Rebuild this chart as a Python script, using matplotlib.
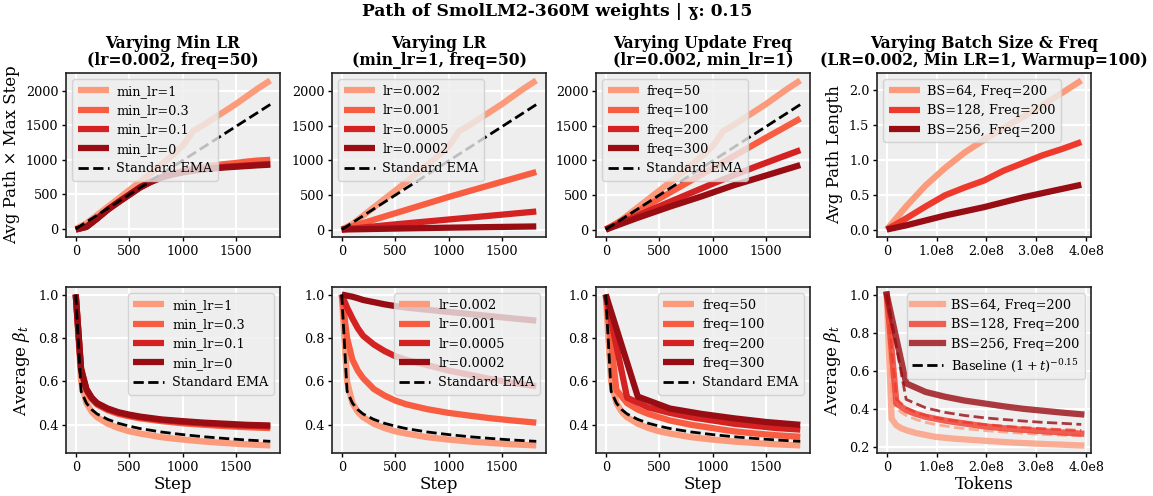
import matplotlib
matplotlib.use('Agg')
import matplotlib.pyplot as plt
import numpy as np
from matplotlib.lines import Line2D
from matplotlib.ticker import FuncFormatter, MultipleLocator

# ---- top row: average path x max step ----
steps_top = [0, 100, 200, 300, 400, 500, 600, 700, 800, 900, 1000, 1100, 1200,
             1300, 1400, 1500, 1600, 1700, 1820]
path_base = [0, 80, 200, 320, 440, 560, 680, 800, 930, 1060, 1200, 1420, 1510,
             1610, 1710, 1810, 1920, 2030, 2150]
path_minlr03 = [-10, 30, 150, 280, 390, 494, 600, 680, 750, 800, 840, 870, 900,
                920, 940, 955, 975, 990, 1000]
path_minlr01 = [-10, 30, 150, 280, 390, 494, 600, 680, 745, 790, 825, 850, 870,
                885, 900, 910, 920, 930, 940]
path_minlr0 = [-10, 28, 148, 278, 388, 492, 598, 678, 742, 785, 818, 843, 862,
               877, 890, 900, 910, 920, 930]
path_ema = [0, 99, 198, 297, 396, 495, 594, 693, 792, 891, 990, 1089, 1188,
            1287, 1386, 1485, 1584, 1683, 1802]

steps_lr = [0, 500, 1000, 1500, 1820]
path_lr001 = [0, 235, 470, 690, 830]
path_lr0005 = [0, 75, 145, 215, 260]
path_lr0002 = [0, 14, 27, 38, 45]

steps_f100_top = [0, 500, 1000, 1500, 1820]
path_f100 = [0, 445, 885, 1325, 1600]
steps_f200_top = [0, 200, 400, 600, 800, 1000, 1200, 1400, 1600, 1820]
path_f200 = [0, 135, 270, 400, 530, 660, 785, 905, 1020, 1145]
steps_f300_top = [0, 300, 600, 900, 1200, 1500, 1820]
path_f300 = [0, 170, 330, 480, 640, 780, 930]

tokens_top = [0, 0.39e8, 0.78e8, 1.17e8, 1.56e8, 1.95e8, 2.34e8, 2.73e8,
              3.12e8, 3.51e8, 3.9e8]
path_bs64 = [0, 0.33, 0.63, 0.88, 1.10, 1.28, 1.45, 1.61, 1.77, 1.95, 2.13]
path_bs128 = [0, 0.16, 0.33, 0.49, 0.60, 0.70, 0.84, 0.95, 1.06, 1.15, 1.25]
path_bs256 = [0, 0.06, 0.13, 0.20, 0.26, 0.32, 0.39, 0.46, 0.52, 0.58, 0.64]

# ---- bottom row: average beta_t ----
steps_bot = [0, 50, 100, 150, 200, 300, 400, 500, 600, 800, 1000, 1200, 1400,
             1600, 1820]
beta_ema = [1.0, 0.555, 0.50, 0.47, 0.45, 0.425, 0.407, 0.394, 0.383, 0.367,
            0.355, 0.345, 0.337, 0.33, 0.324]
beta_base = [1.0, 0.60, 0.50, 0.46, 0.435, 0.405, 0.385, 0.37, 0.36, 0.343,
             0.332, 0.323, 0.316, 0.31, 0.305]
beta_minlr03 = [1.0, 0.65, 0.558, 0.518, 0.493, 0.467, 0.45, 0.439, 0.43,
                0.417, 0.407, 0.4, 0.394, 0.389, 0.385]
beta_minlr01 = [1.0, 0.655, 0.562, 0.522, 0.497, 0.472, 0.455, 0.444, 0.435,
                0.422, 0.413, 0.406, 0.4, 0.396, 0.393]
beta_minlr0 = [1.0, 0.66, 0.565, 0.525, 0.50, 0.475, 0.458, 0.447, 0.438,
               0.425, 0.417, 0.41, 0.405, 0.40, 0.397]
beta_lr001 = [1.0, 0.80, 0.70, 0.65, 0.615, 0.565, 0.535, 0.512, 0.495, 0.472,
              0.455, 0.442, 0.43, 0.42, 0.41]
beta_lr0005 = [1.0, 0.94, 0.89, 0.845, 0.81, 0.77, 0.74, 0.716, 0.70, 0.675,
               0.65, 0.63, 0.61, 0.593, 0.578]
beta_lr0002 = [1.0, 0.995, 0.99, 0.983, 0.975, 0.965, 0.955, 0.947, 0.94, 0.93,
               0.92, 0.91, 0.90, 0.89, 0.88]

steps_f100 = [0, 100, 200, 300, 400, 500, 600, 800, 1000, 1200, 1400, 1600, 1820]
beta_f100 = [1.0, 0.56, 0.50, 0.47, 0.45, 0.435, 0.42, 0.40, 0.385, 0.37, 0.36,
             0.352, 0.345]
steps_f200 = [0, 200, 400, 600, 800, 1000, 1200, 1400, 1600, 1820]
beta_f200 = [1.0, 0.525, 0.48, 0.455, 0.435, 0.42, 0.405, 0.395, 0.385, 0.378]
steps_f300 = [0, 300, 600, 900, 1200, 1500, 1820]
beta_f300 = [1.0, 0.53, 0.475, 0.45, 0.43, 0.413, 0.40]

tokens_bs64 = [0, 0.0975e8, 0.195e8, 0.2925e8, 0.39e8, 0.585e8, 0.78e8,
               0.975e8, 1.365e8, 1.95e8, 2.535e8, 3.12e8, 3.9e8]
beta_bs64 = [1.0, 0.35, 0.315, 0.30, 0.29, 0.275, 0.265, 0.255, 0.245, 0.235,
             0.225, 0.218, 0.21]
base_bs64 = [1.0, 0.451, 0.407, 0.383, 0.367, 0.346, 0.331, 0.320, 0.304,
             0.288, 0.277, 0.268, 0.260]
tokens_bs128 = [0, 0.195e8, 0.39e8, 0.585e8, 0.78e8, 0.975e8, 1.17e8, 1.56e8,
                1.95e8, 2.34e8, 2.73e8, 3.12e8, 3.51e8, 3.9e8]
beta_bs128 = [1.0, 0.43, 0.395, 0.375, 0.36, 0.35, 0.34, 0.325, 0.31, 0.30,
              0.292, 0.285, 0.278, 0.272]
base_bs128 = [1.0, 0.451, 0.407, 0.383, 0.367, 0.355, 0.346, 0.331, 0.320,
              0.311, 0.304, 0.298, 0.293, 0.288]
tokens_bs256 = tokens_top
beta_bs256 = [1.0, 0.535, 0.49, 0.465, 0.445, 0.43, 0.415, 0.402, 0.392,
              0.382, 0.373]
base_bs256 = [1.0, 0.451, 0.407, 0.383, 0.367, 0.355, 0.346, 0.338, 0.331,
              0.326, 0.320]

minlr_labels = ['min_lr=1', 'min_lr=0.3', 'min_lr=0.1', 'min_lr=0']
lr_labels = ['lr=0.002', 'lr=0.001', 'lr=0.0005', 'lr=0.0002']
freq_labels = ['freq=50', 'freq=100', 'freq=200', 'freq=300']
bs_labels = ['BS=64, Freq=200', 'BS=128, Freq=200', 'BS=256, Freq=200']

plt.rcParams.update({
    'font.family': 'DejaVu Serif',
    'mathtext.fontset': 'dejavuserif',
    'axes.facecolor': '#eeeeee',
    'axes.edgecolor': '#222222',
    'axes.linewidth': 1.2,
    'grid.color': 'white',
    'grid.linewidth': 1.6,
    'xtick.labelsize': 9.2,
    'ytick.labelsize': 9.2,
    'legend.fontsize': 9.3,
    'axes.labelsize': 12,
    'legend.edgecolor': '#cccccc',
})

reds4 = plt.cm.Reds(np.linspace(0.35, 0.9, 4))
reds3 = plt.cm.Reds(np.linspace(0.35, 0.9, 3))
LW = 4.5
DASH_LW = 2.0

W, H = 1153, 496
lefts = [66, 332, 596, 877]
width = 214
rows = [(73, 237), (287, 453)]

fig = plt.figure(figsize=(W / 100, H / 100), dpi=100)
axes = []
for top, bot in rows:
    row = []
    for left in lefts:
        ax = fig.add_axes([left / W, 1 - bot / H, width / W, (bot - top) / H])
        ax.grid(True)
        ax.set_axisbelow(True)
        ax.tick_params(direction='out', length=3, width=1, pad=2.5)
        row.append(ax)
    axes.append(row)


def draw_lines(ax, series, labels, colors, ema=None, loc='upper left'):
    for (x, y), lab, c in zip(series, labels, colors):
        ax.plot(x, y, color=c, lw=LW, label=lab, solid_capstyle='butt')
    if ema is not None:
        ax.plot(ema[0], ema[1], color='black', ls='--', lw=DASH_LW,
                label='Standard EMA')
    ax.legend(loc=loc, handlelength=2.4, handletextpad=0.6, framealpha=0.8)


titles = ['Varying Min LR\n(lr=0.002, freq=50)',
          'Varying LR\n(min_lr=1, freq=50)',
          'Varying Update Freq\n(lr=0.002, min_lr=1)',
          'Varying Batch Size & Freq\n(LR=0.002, Min LR=1, Warmup=100)']
for ax, t in zip(axes[0], titles):
    ax.set_title(t, fontweight='bold', fontsize=11.2, linespacing=1.0)

# top row
draw_lines(axes[0][0],
           [(steps_top, path_base), (steps_top, path_minlr03),
            (steps_top, path_minlr01), (steps_top, path_minlr0)],
           minlr_labels, reds4, ema=(steps_top, path_ema))
draw_lines(axes[0][1],
           [(steps_top, path_base), (steps_lr, path_lr001),
            (steps_lr, path_lr0005), (steps_lr, path_lr0002)],
           lr_labels, reds4, ema=(steps_top, path_ema))
draw_lines(axes[0][2],
           [(steps_top, path_base), (steps_f100_top, path_f100),
            (steps_f200_top, path_f200), (steps_f300_top, path_f300)],
           freq_labels, reds4, ema=(steps_top, path_ema))
draw_lines(axes[0][3],
           [(tokens_top, path_bs64), (tokens_top, path_bs128),
            (tokens_top, path_bs256)],
           bs_labels, reds3)
axes[0][0].set_ylabel('Avg Path × Max Step')
axes[0][3].set_ylabel('Avg Path Length')
axes[0][3].yaxis.set_major_locator(MultipleLocator(0.5))

# bottom row
draw_lines(axes[1][0],
           [(steps_bot, beta_base), (steps_bot, beta_minlr03),
            (steps_bot, beta_minlr01), (steps_bot, beta_minlr0)],
           minlr_labels, reds4, ema=(steps_bot, beta_ema), loc='upper right')
draw_lines(axes[1][1],
           [(steps_bot, beta_base), (steps_bot, beta_lr001),
            (steps_bot, beta_lr0005), (steps_bot, beta_lr0002)],
           lr_labels, reds4, ema=(steps_bot, beta_ema), loc='upper right')
draw_lines(axes[1][2],
           [(steps_bot, beta_base), (steps_f100, beta_f100),
            (steps_f200, beta_f200), (steps_f300, beta_f300)],
           freq_labels, reds4, ema=(steps_bot, beta_ema), loc='upper right')

ax = axes[1][3]
handles = []
for x, y, base, lab, c in zip([tokens_bs64, tokens_bs128, tokens_bs256],
                              [beta_bs64, beta_bs128, beta_bs256],
                              [base_bs64, base_bs128, base_bs256],
                              bs_labels, reds3):
    h, = ax.plot(x, y, color=c, lw=LW, alpha=0.8, label=lab)
    ax.plot(x, base, color=c, lw=DASH_LW, ls='--', alpha=0.8)
    handles.append(h)
handles.append(Line2D([], [], color='black', ls='--', lw=DASH_LW,
                      label='Baseline $(1+t)^{-0.15}$'))
ax.legend(handles=handles, loc='upper right', handlelength=2.4,
          handletextpad=0.6, framealpha=0.8)

for ax in axes[1]:
    ax.yaxis.set_major_locator(MultipleLocator(0.2))
    ax.set_ylabel('Average $\\beta_t$')
    ax.set_xlabel('Step', labelpad=2)
axes[1][1].set_ylabel('')
axes[1][2].set_ylabel('')
axes[1][3].set_xlabel('Tokens', labelpad=2)

tok_fmt = FuncFormatter(lambda v, p: '0' if v == 0 else f'{v / 1e8:.1f}e8')
for ax in (axes[0][3], axes[1][3]):
    ax.set_xticks([0, 1e8, 2e8, 3e8, 4e8])
    ax.xaxis.set_major_formatter(tok_fmt)

fig.text(557 / W, 1 - 12 / H, 'Path of SmolLM2-360M weights | \u0263: 0.15',
         ha='center', va='center', fontweight='bold', fontsize=12.3)

fig.savefig('out.png', dpi=100)
